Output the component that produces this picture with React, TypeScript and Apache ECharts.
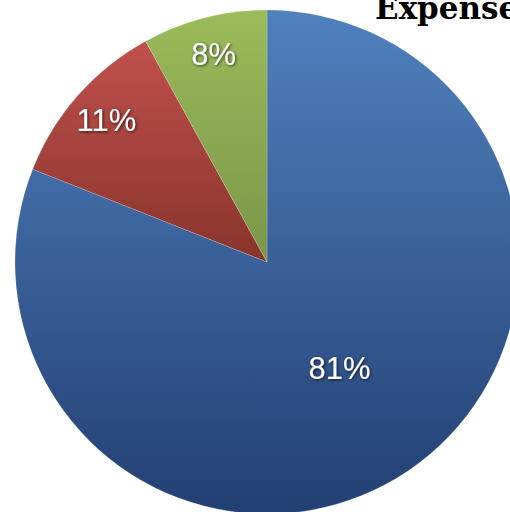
import React, { useEffect, useRef } from "react";
import * as echarts from "echarts";

const categories = ["Category A", "Category B", "Category C"];
const values = [81, 11, 8];
const titleText = "Expenses";

const topColors = ["#4F81BD", "#C0504D", "#9BBB59"];
const bottomColors = ["#233F73", "#88342C", "#7A9649"];

export default function App() {
  const ref = useRef<HTMLDivElement>(null);
  useEffect(() => {
    const chart = echarts.init(ref.current!, null, { renderer: "svg" });
    const total = values.reduce((a, b) => a + b, 0);
    const labelStyle = {
      color: "#FFFFFF",
      fontFamily: "Liberation Sans, Arial, sans-serif",
      fontSize: 31,
      textShadowColor: "rgba(0,0,0,0.7)",
      textShadowBlur: 3,
      textShadowOffsetX: 1,
      textShadowOffsetY: 1,
      formatter: (p: any) => Math.round((p.value / total) * 100) + "%",
    };
    const mainData = categories.map((name, i) => ({
      name,
      value: values[i],
      itemStyle: {
        color: new echarts.graphic.LinearGradient(0, 0, 0, 1, [
          { offset: 0, color: topColors[i] },
          { offset: 1, color: bottomColors[i] },
        ]),
      },
      label: { show: i === 0 },
    }));
    const ringData = categories.map((name, i) => ({
      name,
      value: values[i],
      itemStyle: { color: "transparent" },
      label: { show: i !== 0 },
    }));
    chart.setOption({
      animation: false,
      graphic: [
        {
          type: "text",
          left: 375,
          top: -8,
          style: {
            text: titleText,
            fontFamily: "DejaVu Serif, serif",
            fontWeight: "bold",
            fontSize: 31,
            fill: "#000000",
          },
        },
      ],
      series: [
        {
          type: "pie",
          center: [267, 262],
          radius: [0, 252],
          startAngle: 90,
          clockwise: true,
          data: mainData,
          label: { position: "inside", ...labelStyle },
          labelLine: { show: false },
          itemStyle: { borderColor: "rgba(255,255,255,0.35)", borderWidth: 0.5 },
          emphasis: { disabled: true },
          silent: true,
        },
        {
          type: "pie",
          center: [267, 262],
          radius: [170, 252],
          startAngle: 90,
          clockwise: true,
          data: ringData,
          label: { position: "inside", ...labelStyle },
          labelLine: { show: false },
          emphasis: { disabled: true },
          silent: true,
          z: 3,
        },
      ],
    });
    return () => chart.dispose();
  }, []);
  return (
    <div
      ref={ref}
      style={{ position: "absolute", left: 0, top: 0, width: 510, height: 512 }}
    />
  );
}
